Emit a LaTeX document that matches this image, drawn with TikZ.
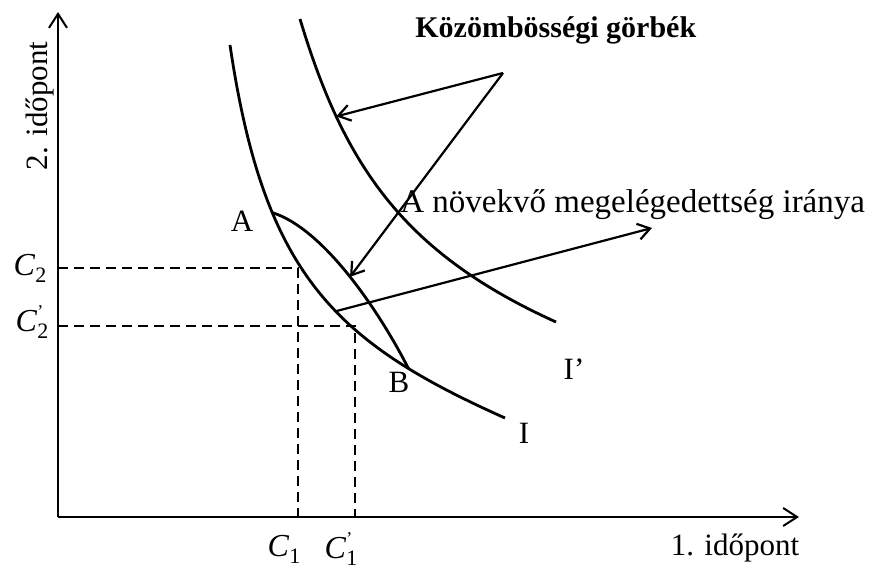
\documentclass[tikz,border=0pt]{standalone}
\usepackage{fontspec}
\setmainfont{Liberation Serif}
\usetikzlibrary{arrows.meta,positioning}

\newcommand{\cval}[2]{\textit{C}\makebox[0pt][l]{\raisebox{7pt}{\fontsize{9}{9}\selectfont #2}}\raisebox{-3.5pt}{\fontsize{11}{11}\selectfont #1}}

\begin{document}
\begin{tikzpicture}[
  x=0.5pt, y=-0.5pt,
  every node/.style={font=\fontsize{15.5}{18}\selectfont, inner sep=1pt},
  axis/.style={line width=1pt, -{Straight Barb[length=7pt,width=9pt,line width=1pt]}},
  curve/.style={line width=1.4pt},
  guide/.style={line width=1.1pt, dash pattern=on 5pt off 3pt},
  pointer/.style={line width=1.1pt, -{Straight Barb[length=6pt,width=8pt,line width=1.1pt]}},
  tag/.style={font=\fontsize{16}{18}\selectfont}
]
\useasboundingbox (0,0) rectangle (873,578);

% axes
\coordinate (origin) at (58,517);
\coordinate (xend) at (799,517);
\coordinate (yend) at (58,12);
\draw[axis] (origin) -- (xend);
\draw[axis] (origin) -- (yend);
\node (xlabel) at (735,548) {1. időpont};
\node[rotate=90] (ylabel) at (40,106) {2. időpont};

% indifference curves
\draw[curve] (230,45) .. controls (264,275) and (335,342) .. (505,418)
  coordinate[pos=0.3] (ptA) coordinate[pos=0.785] (ptB) coordinate[pos=0.57] (fromI);
\draw[curve] (300,19) .. controls (345,169) and (406,254) .. (556,322)
  coordinate[pos=0.24] (onIp);
\node (ilab) at (524,433) {I};
\node (iplab) at (574,369) {I'};

% consumption levels
\coordinate (c2) at (58,268);
\coordinate (c2p) at (58,326);
\coordinate (c1) at (298,517);
\coordinate (c1p) at (355,517);
\coordinate (q1) at (298,268);
\coordinate (q2) at (355,326);
\draw[guide] (c2) -- (q1) -- (c1);
\draw[guide] (c2p) -- (q2) -- (c1p);
\node[tag] (c2lab) at (30,268) {\cval{2}{}};
\node[tag] (c2plab) at (32,322) {\cval{2}{'}};
\node[tag] (c1lab) at (284,549) {\cval{1}{}};
\node[tag] (c1plab) at (341,549) {\cval{1}{'}};

% opportunity set between A and B
\draw[curve] (ptA) .. controls (322,228) and (377,307) .. (ptB)
  coordinate[pos=0.52] (onAB);
\node (alab) at (242,221) {A};
\node (blab) at (399,382) {B};

% labels with pointers
\node[anchor=west, font=\fontsize{15}{18}\selectfont\bfseries] (kgorbe) at (413,30) {Közömbösségi görbék};
\coordinate (kfoot) at (503,73);
\draw[pointer] (kfoot) -- (onIp);
\draw[pointer] (kfoot) -- (onAB);

\node[anchor=west, font=\fontsize{16.5}{19}\selectfont] (irany) at (398,205) {A növekvő megelégedettség iránya};
\coordinate (tipdir) at (652,228);
\draw[pointer] (fromI) -- (tipdir);
\end{tikzpicture}
\end{document}
